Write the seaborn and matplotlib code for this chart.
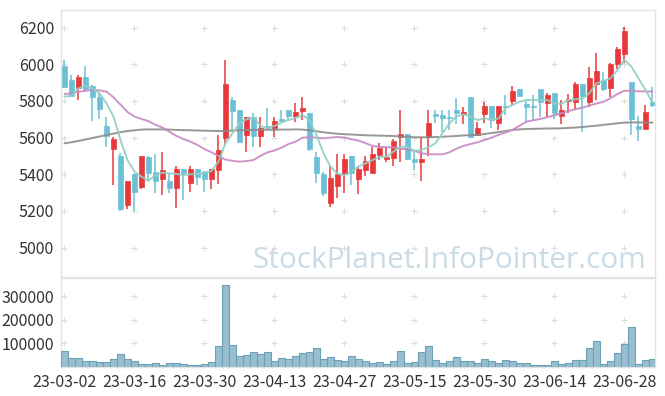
import numpy as np
import matplotlib
matplotlib.use("Agg")
import matplotlib.pyplot as plt
import seaborn as sns

dates = ["23-03-02","23-03-03","23-03-06","23-03-07","23-03-08","23-03-09","23-03-10","23-03-13","23-03-14","23-03-15",
         "23-03-16","23-03-17","23-03-20","23-03-21","23-03-22","23-03-23","23-03-24","23-03-27","23-03-28","23-03-29",
         "23-03-30","23-03-31","23-04-03","23-04-04","23-04-05","23-04-06","23-04-07","23-04-10","23-04-11","23-04-12",
         "23-04-13","23-04-14","23-04-17","23-04-18","23-04-19","23-04-20","23-04-21","23-04-24","23-04-25","23-04-26",
         "23-04-27","23-04-28","23-05-02","23-05-03","23-05-04","23-05-08","23-05-09","23-05-10","23-05-11","23-05-12",
         "23-05-15","23-05-16","23-05-17","23-05-18","23-05-19","23-05-22","23-05-23","23-05-24","23-05-25","23-05-26",
         "23-05-30","23-05-31","23-06-01","23-06-02","23-06-05","23-06-07","23-06-08","23-06-09","23-06-12","23-06-13",
         "23-06-14","23-06-15","23-06-16","23-06-19","23-06-20","23-06-21","23-06-22","23-06-23","23-06-26","23-06-27",
         "23-06-28","23-06-29","23-06-30","23-07-03","23-07-04"]

open_ = [5991,5915,5869,5929,5882,5820,5664,5538,5500,5231,5402,5329,5496,5411,5376,5364,5327,5429,5351,5429,
         5411,5376,5424,5600,5805,5751,5616,5711,5611,5660,5651,5700,5751,5720,5747,5733,5493,5402,5246,5338,
         5400,5500,5376,5424,5409,5507,5482,5491,5602,5620,5482,5469,5602,5727,5722,5712,5751,5729,5820,5615,
         5731,5773,5678,5773,5802,5864,5784,5773,5864,5791,5842,5720,5802,5793,5893,5793,5891,5915,5869,6000,
         6055,5902,5664,5649,5793]
high = [6024,5942,5942,5991,5885,5845,5711,5605,5518,5362,5402,5500,5500,5509,5520,5400,5445,5429,5445,5429,
        5420,5429,5615,6024,5824,5751,5715,5733,5711,5760,5711,5751,5751,5791,5820,5736,5520,5411,5447,5509,
        5509,5500,5445,5500,5551,5569,5551,5595,5751,5620,5524,5602,5751,5751,5751,5751,5815,5765,5820,5687,
        5796,5773,5773,5833,5882,5864,5805,5833,5864,5842,5842,5805,5838,5905,5893,5984,6060,5960,6005,6093,
        6205,5902,5718,5778,5878]
low = [5878,5820,5805,5851,5693,5700,5551,5342,5202,5209,5202,5318,5364,5296,5287,5296,5215,5260,5305,5342,
       5302,5318,5347,5560,5642,5578,5520,5551,5551,5651,5602,5690,5696,5687,5696,5529,5351,5282,5224,5269,
       5296,5342,5293,5391,5405,5478,5469,5447,5469,5482,5424,5365,5500,5678,5633,5640,5673,5675,5602,5615,
       5678,5651,5642,5724,5773,5827,5678,5696,5715,5715,5700,5673,5736,5751,5629,5769,5805,5856,5824,5973,
       6005,5615,5584,5649,5765]
close = [5878,5827,5929,5864,5820,5758,5611,5593,5209,5362,5305,5500,5409,5365,5424,5327,5429,5409,5429,5387,
         5376,5429,5533,5893,5747,5578,5711,5611,5653,5655,5691,5693,5720,5740,5762,5538,5409,5300,5380,5402,
         5484,5409,5429,5473,5511,5544,5496,5584,5620,5482,5469,5482,5678,5720,5709,5708,5736,5740,5602,5651,
         5773,5696,5773,5765,5856,5827,5769,5769,5793,5831,5736,5751,5813,5893,5827,5925,5964,5865,6000,6084,
         6182,5700,5649,5738,5778]
ma5 = [5824,5827,5869,5882,5869,5842,5787,5715,5587,5478,5415,5387,5365,5396,5409,5405,5402,5396,5400,5402,
       5409,5418,5469,5569,5624,5678,5700,5711,5664,5651,5664,5682,5696,5707,5724,5696,5615,5515,5442,5402,
       5396,5415,5442,5460,5478,5493,5496,5524,5551,5551,5527,5533,5547,5569,5624,5678,5715,5727,5715,5696,
       5705,5700,5704,5760,5778,5796,5805,5805,5805,5805,5787,5784,5805,5809,5813,5842,5896,5909,5924,5969,
       6024,5987,5924,5860,5791]
ma20 = [5838,5842,5850,5856,5860,5858,5851,5820,5780,5740,5715,5702,5690,5670,5655,5632,5609,5592,5578,5560,
        5538,5520,5500,5480,5474,5469,5472,5478,5500,5520,5530,5545,5565,5578,5600,5602,5600,5596,5600,5604,
        5600,5592,5584,5570,5555,5550,5548,5547,5540,5536,5528,5515,5510,5509,5509,5520,5540,5555,5565,5575,
        5587,5600,5615,5628,5642,5665,5687,5695,5702,5712,5722,5733,5745,5755,5764,5775,5786,5796,5815,5838,
        5856,5855,5853,5852,5851]
ma60 = [5569,5575,5582,5590,5598,5606,5614,5622,5630,5636,5640,5644,5645,5645,5645,5644,5642,5641,5640,5639,
        5638,5637,5636,5636,5638,5640,5642,5642,5643,5643,5643,5644,5644,5645,5644,5640,5635,5629,5625,5621,
        5619,5617,5615,5613,5612,5611,5610,5609,5607,5605,5602,5602,5602,5603,5605,5607,5609,5612,5614,5615,
        5620,5625,5630,5636,5642,5645,5647,5648,5649,5650,5650,5651,5653,5655,5658,5662,5665,5670,5674,5678,
        5682,5683,5683,5682,5682]
volume = [69000,39000,39000,26000,26000,22000,22000,35000,55000,35000,26000,13000,13000,16000,8600,16000,16000,11500,8600,8600,
          13000,21600,90700,350000,93500,47500,52000,63000,56000,63000,24500,39000,35000,47500,59000,63000,82000,35000,42000,29000,
          24500,47500,33000,24500,16000,20000,11500,24500,67600,16000,20000,63000,89000,29000,16000,24500,42000,24500,24500,16000,
          33000,24500,16000,29000,24500,16000,16000,10000,10000,10000,24500,11500,16000,29000,29000,80600,111000,11500,24500,59000,
          98000,171000,11500,29000,33000]
price_ticks = [5000, 5200, 5400, 5600, 5800, 6000, 6200]
vol_ticks = [100000, 200000, 300000]
watermark = "StockPlanet.InfoPointer.com"

sns.set_theme(style="white")
plt.rcParams['font.family'] = ['Noto Sans CJK KR', 'DejaVu Sans']

n = len(dates)
x = np.arange(n)
o = np.array(open_); c = np.array(close); h = np.array(high); l = np.array(low)

fig = plt.figure(figsize=(6.65, 3.96), dpi=100)
ax = fig.add_axes([0.0917, 0.3005, 0.8932, 0.6742])
axv = fig.add_axes([0.0917, 0.0732, 0.8932, 0.2248])

RED = "#e8383b"
BLUE = "#6cc0d6"
up = c >= o
cols = np.where(up, RED, BLUE)
body_bot = np.minimum(o, c)
body_h = np.maximum(np.abs(c - o), 6)

ax.vlines(x, l, h, colors=cols, linewidth=1.1, zorder=2)
ax.bar(x, body_h, bottom=body_bot, width=0.72, color=cols, edgecolor=cols, linewidth=0.5, zorder=3)

sns.lineplot(x=x, y=ma60, ax=ax, color="#8c8c8c", linewidth=1.4, alpha=0.9, zorder=4)
sns.lineplot(x=x, y=ma20, ax=ax, color="#c78ac4", linewidth=1.4, alpha=0.9, zorder=4)
sns.lineplot(x=x, y=ma5, ax=ax, color="#8fd0c4", linewidth=1.4, alpha=0.9, zorder=4)

ax.set_xlim(-0.5, 84.36)
ax.set_ylim(4840, 6296)
ax.set_yticks(price_ticks)
ax.set_yticklabels([str(t) for t in price_ticks])
ax.set_xticks(range(0, n, 10))
ax.set_xticklabels([])
gx, gy = np.meshgrid(np.arange(0, n, 10), price_ticks)
ax.scatter(gx.ravel(), gy.ravel(), marker="+", s=22, color="#dcdcdc", linewidths=0.8, zorder=1)

ax.text(0.985, 0.034, watermark, transform=ax.transAxes, ha="right", va="baseline",
        fontsize=21.5, color="#c9dbe5", family=["Open Sans", "DejaVu Sans"], zorder=0)

sns.barplot(x=x, y=volume, ax=axv, color="#97bfd0", saturation=1, width=1.0,
            edgecolor="#6d9fb5", linewidth=0.8, zorder=3)
axv.set_xlim(-0.5, 84.36)
axv.set_ylim(0, 378000)
axv.set_yticks(vol_ticks)
axv.set_yticklabels([str(t) for t in vol_ticks])
axv.set_xticks(range(0, n, 10))
axv.set_xticklabels([dates[i] for i in range(0, n, 10)])
gx2, gy2 = np.meshgrid(np.arange(0, n, 10), vol_ticks)
axv.scatter(gx2.ravel(), gy2.ravel(), marker="+", s=22, color="#dcdcdc", linewidths=0.8, zorder=1)
axv.set_xlabel(""); axv.set_ylabel("")
ax.set_xlabel(""); ax.set_ylabel("")

for a in (ax, axv):
    for s in a.spines.values():
        s.set_color("#e3e3e3")
        s.set_linewidth(1.0)
    a.tick_params(axis="both", length=0, labelsize=11.5, colors="#333333", pad=5)
    a.set_facecolor("white")
    a.grid(False)

fig.savefig("out.png", dpi=100, facecolor="white")
